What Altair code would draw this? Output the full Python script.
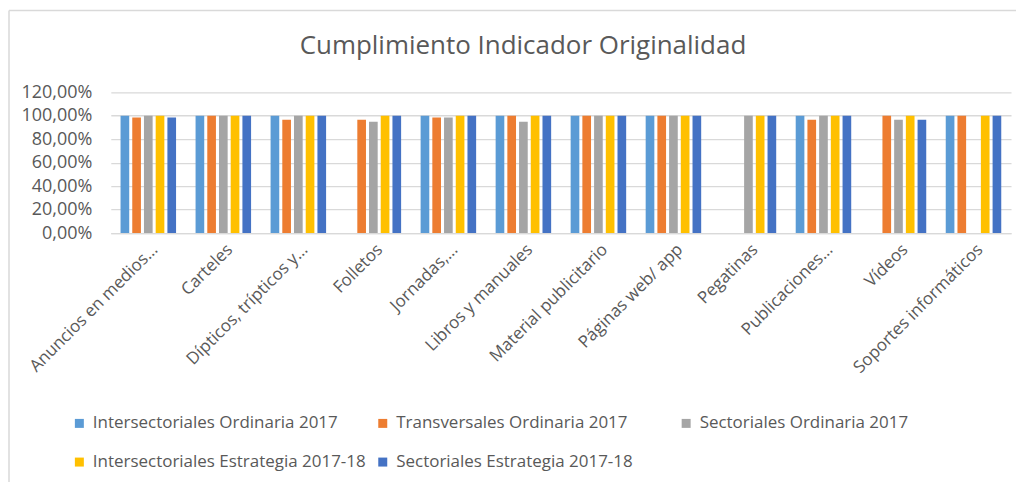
import altair as alt
import pandas as pd

categories = [
    "Anuncios en medios…", "Carteles", "Dípticos, trípticos y…", "Folletos",
    "Jornadas,…", "Libros y manuales", "Material publicitario", "Páginas web/ app",
    "Pegatinas", "Publicaciones…", "Vídeos", "Soportes informáticos",
]
series = [
    "Intersectoriales Ordinaria 2017",
    "Transversales Ordinaria 2017",
    "Sectoriales Ordinaria 2017",
    "Intersectoriales Estrategia 2017-18",
    "Sectoriales Estrategia 2017-18",
]
colors = ["#5B9BD5", "#ED7D31", "#A5A5A5", "#FFC000", "#4472C4"]

intersectoriales_ord = [1.0, 1.0, 1.0, None, 1.0, 1.0, 1.0, 1.0, None, 1.0, None, 1.0]
transversales_ord = [0.986, 1.0, 0.966, 0.966, 0.986, 1.0, 1.0, 1.0, None, 0.966, 1.0, 1.0]
sectoriales_ord = [1.0, 1.0, 1.0, 0.949, 0.986, 0.949, 1.0, 1.0, 1.0, 1.0, 0.966, None]
intersectoriales_est = [1.0] * 12
sectoriales_est = [0.986, 1.0, 1.0, 1.0, 1.0, 1.0, 1.0, 1.0, 1.0, 1.0, 0.966, 1.0]

values = [intersectoriales_ord, transversales_ord, sectoriales_ord,
          intersectoriales_est, sectoriales_est]

rows = []
for s, vals in zip(series, values):
    for c, v in zip(categories, vals):
        if v is not None:
            rows.append({"cat": c, "serie": s, "val": v})
df = pd.DataFrame(rows)

FONT = "Open Sans"
GREY = "#595959"

bars = alt.Chart(df).mark_bar().encode(
    x=alt.X("cat:N", sort=categories, title=None,
            scale=alt.Scale(paddingInner=0.26, paddingOuter=0.13),
            axis=alt.Axis(labelAngle=-45, labelFontSize=17, labelColor=GREY,
                          labelFont=FONT, ticks=False, domainColor="#D9D9D9",
                          domainWidth=1.3, labelPadding=8, labelOffset=1,
                          labelLimit=300)),
    xOffset=alt.XOffset("serie:N", sort=series,
                        scale=alt.Scale(domain=series, paddingInner=0.26, paddingOuter=0)),
    y=alt.Y("val:Q", title=None,
            scale=alt.Scale(domain=[0, 1.2]),
            axis=alt.Axis(values=[0, 0.2, 0.4, 0.6, 0.8, 1.0, 1.2],
                          labelExpr="replace(format(datum.value, '.2%'), '.', ',')",
                          labelFontSize=18, labelColor=GREY, labelFont=FONT,
                          ticks=False, domain=False, labelPadding=19,
                          gridColor="#D9D9D9", gridWidth=1.3)),
    color=alt.Color("serie:N", sort=series,
                    scale=alt.Scale(domain=series, range=colors),
                    legend=alt.Legend(title=None, orient="none", legendX=-40, legendY=323,
                                      direction="horizontal",
                                      columns=3, gridAlign="all", columnPadding=8,
                                      rowPadding=21, symbolType="square", symbolSize=81,
                                      symbolStrokeWidth=0, labelOffset=5,
                                      labelFontSize=17, labelColor=GREY, labelFont=FONT,
                                      labelLimit=400, padding=0)),
)

border_left = alt.Chart().mark_rule(color="#D9D9D9", strokeWidth=1.5).encode(
    x=alt.value(-102), y=alt.value(-82), y2=alt.value(400))
border_top = alt.Chart().mark_rule(color="#D9D9D9", strokeWidth=1.5).encode(
    x=alt.value(-102), x2=alt.value(920), y=alt.value(-82))

chart = alt.layer(bars, border_left, border_top).properties(
    width=902, height=141,
    title=alt.TitleParams("Cumplimiento Indicador Originalidad", fontSize=26,
                          font=FONT, color=GREY, fontWeight="normal",
                          anchor="middle", frame="group", dx=-38, offset=-70,
                          baseline="alphabetic"),
    autosize=alt.AutoSizeParams(type="none"),
    padding={"left": 103, "top": 84, "right": 5, "bottom": 250},
).configure_view(stroke=None)

chart.save("out.html", embed_options={"renderer": "svg", "actions": False})
